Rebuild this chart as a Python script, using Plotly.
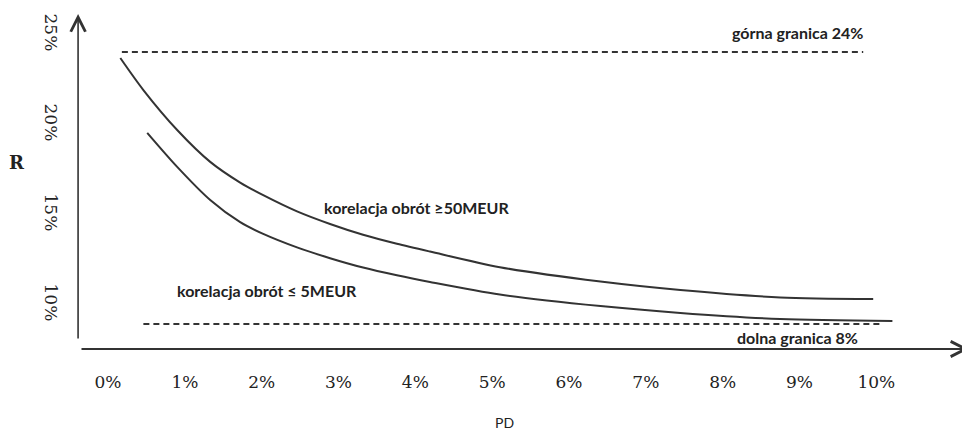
import plotly.graph_objects as go

# PD (%) and R (%)
upper_x = [0.16, 0.46, 0.90, 1.33, 1.72, 2.02, 2.46, 2.89, 3.32, 3.76, 4.19, 5.10, 6.41, 7.45, 8.75, 9.96]
upper_r = [23.72, 21.94, 19.72, 17.95, 16.8, 16.1, 15.2, 14.5, 13.9, 13.4, 12.97, 12.1, 11.3, 10.83, 10.42, 10.33]

lower_x = [0.51, 0.90, 1.33, 1.72, 2.02, 2.46, 2.89, 3.32, 3.76, 4.19, 5.10, 6.41, 7.45, 8.75, 10.21]
lower_r = [19.56, 17.67, 15.83, 14.6, 13.95, 13.2, 12.6, 12.08, 11.65, 11.28, 10.58, 9.94, 9.56, 9.22, 9.11]

upper_bound_x = [0.18, 9.83]
upper_bound_r = [24.06, 24.06]
lower_bound_x = [0.46, 10.08]
lower_bound_r = [8.94, 8.94]

x_ticks = [0, 1, 2, 3, 4, 5, 6, 7, 8, 9, 10]
x_tick_labels = ["0%", "1%", "2%", "3%", "4%", "5%", "6%", "7%", "8%", "9%", "10%"]
y_ticks = [10, 15, 20, 25]
y_tick_labels = ["10%", "15%", "20%", "25%"]

line_col = "#333333"
serif = "DejaVu Serif"
sans = "Lato"

fig = go.Figure()
fig.add_trace(go.Scatter(x=upper_x, y=upper_r, mode="lines",
                         line=dict(color=line_col, width=2, shape="spline", smoothing=0.8), showlegend=False))
fig.add_trace(go.Scatter(x=lower_x, y=lower_r, mode="lines",
                         line=dict(color=line_col, width=2, shape="spline", smoothing=0.8), showlegend=False))
fig.add_trace(go.Scatter(x=upper_bound_x, y=upper_bound_r, mode="lines",
                         line=dict(color=line_col, width=2, dash="6px,4px"), showlegend=False))
fig.add_trace(go.Scatter(x=lower_bound_x, y=lower_bound_r, mode="lines",
                         line=dict(color=line_col, width=2, dash="6px,4px"), showlegend=False))

# axes with arrows
fig.add_annotation(x=-0.39, y=26.17, ax=-0.39, ay=8.06, xref="x", yref="y", axref="x", ayref="y",
                   text="", showarrow=True, arrowhead=5, arrowsize=1.8, arrowwidth=1.6, arrowcolor=line_col)
fig.add_annotation(x=11.21, y=7.556, ax=-0.365, ay=7.556, xref="x", yref="y", axref="x", ayref="y",
                   text="", showarrow=True, arrowhead=5, arrowsize=1.5, arrowwidth=2, arrowcolor=line_col)

lab_font = dict(family=sans, size=16, color="#222222")
fig.add_annotation(x=8.97, y=25.11, text="<b>górna granica 24%</b>", showarrow=False, font=lab_font)
fig.add_annotation(x=8.98, y=8.17, text="<b>dolna granica 8%</b>", showarrow=False, font=lab_font)
fig.add_annotation(x=4.02, y=15.39, text="<b>korelacja obrót ≥50MEUR</b>", showarrow=False, font=lab_font)
fig.add_annotation(x=2.07, y=10.83, text="<b>korelacja obrót ≤ 5MEUR</b>", showarrow=False, font=lab_font)

fig.add_annotation(x=-0.0672, y=0.555, xref="paper", yref="paper", text="<b>R</b>", showarrow=False,
                   xanchor="center", yanchor="middle",
                   font=dict(family=serif, size=18, color="#222222"))
fig.add_annotation(x=0.479, y=-0.214, xref="paper", yref="paper", text="PD", showarrow=False,
                   xanchor="center", yanchor="middle",
                   font=dict(family=sans, size=14, color="#222222"))

# page body has an 8px margin, so the figure is 8px smaller and margins shifted
fig.update_layout(
    width=962, height=424,
    margin=dict(l=69, r=0, t=5, b=82, autoexpand=False),
    paper_bgcolor="white", plot_bgcolor="white",
    xaxis=dict(range=[-0.404, 11.22], tickvals=x_ticks, ticktext=x_tick_labels, automargin=False,
               showgrid=False, zeroline=False, showline=False, ticks="",
               ticklabelstandoff=20, tickfont=dict(family=serif, size=17, color="#222222")),
    yaxis=dict(range=[7.5, 26.22], tickvals=y_ticks, ticktext=y_tick_labels, automargin=False,
               showgrid=False, zeroline=False, showline=False, ticks="", tickangle=90,
               ticklabelstandoff=14, tickfont=dict(family=serif, size=17, color="#222222")),
)

fig.write_html("out.html")
